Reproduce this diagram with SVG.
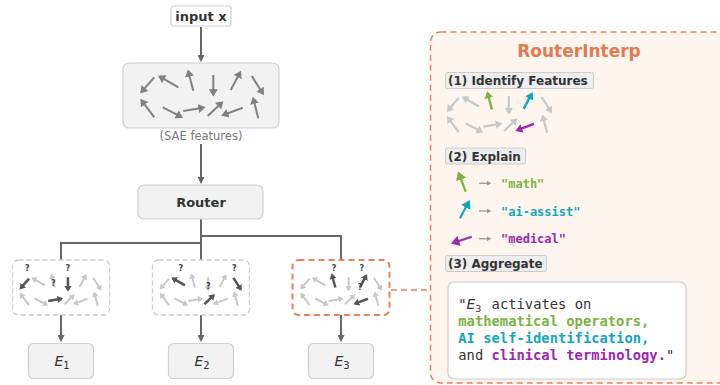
<svg xmlns="http://www.w3.org/2000/svg" width="720" height="385" viewBox="0 0 720 385">
<defs>
<style>
.sans{font-family:"DejaVu Sans","Liberation Sans",sans-serif;}
.mono{font-family:"DejaVu Sans Mono","Liberation Mono",monospace;}
.box{fill:#f2f2f2;stroke:#d0d0d0;stroke-width:1.2;}
.conn{stroke:#666;stroke-width:2;fill:none;}
.fg line{stroke:#808080;marker-end:url(#mg);}
.fl line{stroke:#c8c8c8;marker-end:url(#ml);}
.fl line.d{stroke:#555;marker-end:url(#md);}
.fl line.g{stroke:#7cb342;marker-end:url(#mgr);}
.fl line.c{stroke:#13a6bf;marker-end:url(#mc);}
.fl line.p{stroke:#9c27b0;marker-end:url(#mp);}
.q{font-family:"DejaVu Sans","Liberation Sans",sans-serif;font-size:8px;font-weight:bold;fill:#444;text-anchor:middle;}
.lbl{fill:#eeeeee;stroke:#cccccc;stroke-width:1;}
.lblt{font-family:"DejaVu Sans","Liberation Sans",sans-serif;font-size:12px;font-weight:bold;fill:#333;}
</style>
<marker id="mg" viewBox="0 0 8 10" refX="5.5" refY="5" markerWidth="7.5" markerHeight="9" markerUnits="userSpaceOnUse" orient="auto"><path d="M0,0L8,5L0,10z" fill="#808080"/></marker>
<marker id="ml" viewBox="0 0 8 10" refX="5.5" refY="5" markerWidth="8" markerHeight="10" markerUnits="userSpaceOnUse" orient="auto"><path d="M0,0L8,5L0,10z" fill="#c8c8c8"/></marker>
<marker id="md" viewBox="0 0 8 10" refX="5.5" refY="5" markerWidth="9" markerHeight="11" markerUnits="userSpaceOnUse" orient="auto"><path d="M0,0L8,5L0,10z" fill="#555"/></marker>
<marker id="mgr" viewBox="0 0 8 10" refX="5.5" refY="5" markerWidth="8.5" markerHeight="10.5" markerUnits="userSpaceOnUse" orient="auto"><path d="M0,0L8,5L0,10z" fill="#7cb342"/></marker>
<marker id="mc" viewBox="0 0 8 10" refX="5.5" refY="5" markerWidth="8.5" markerHeight="10.5" markerUnits="userSpaceOnUse" orient="auto"><path d="M0,0L8,5L0,10z" fill="#13a6bf"/></marker>
<marker id="mp" viewBox="0 0 8 10" refX="5.5" refY="5" markerWidth="8.5" markerHeight="10.5" markerUnits="userSpaceOnUse" orient="auto"><path d="M0,0L8,5L0,10z" fill="#9c27b0"/></marker>
<marker id="mk" viewBox="0 0 10 10" refX="7" refY="5" markerWidth="7" markerHeight="7" markerUnits="userSpaceOnUse" orient="auto"><path d="M0,0L10,5L0,10z" fill="#666"/></marker>
<marker id="ms" viewBox="0 0 10 10" refX="7" refY="5" markerWidth="5" markerHeight="5" markerUnits="userSpaceOnUse" orient="auto"><path d="M0,0L10,5L0,10z" fill="#999"/></marker>
</defs>
<rect width="720" height="385" fill="#ffffff"/>

<!-- RouterInterp panel -->
<g id="panel">
<rect x="430.5" y="32" width="330" height="351" rx="10" fill="#fdf5ee" stroke="#e8825a" stroke-width="1.5" stroke-dasharray="6 4"/>
<text x="579" y="57" class="sans" font-size="17" font-weight="bold" fill="#e07b53" text-anchor="middle">RouterInterp</text>
</g>

<g id="connectors">
<line class="conn" x1="201" y1="27" x2="201" y2="60" marker-end="url(#mk)"/>
<line class="conn" x1="201" y1="144" x2="201" y2="182" marker-end="url(#mk)"/>
<polyline class="conn" points="201,219 201,260"/>
<polyline class="conn" points="201,243 61,243 61,260"/>
<polyline class="conn" points="201,236 341,236 341,260"/>
<line class="conn" x1="61" y1="315" x2="61" y2="340" marker-end="url(#mk)"/>
<line class="conn" x1="201" y1="315" x2="201" y2="340" marker-end="url(#mk)"/>
<line class="conn" x1="341" y1="315" x2="341" y2="340" marker-end="url(#mk)"/>
<line x1="391" y1="290" x2="430" y2="290" stroke="#e8825a" stroke-width="1.5" stroke-dasharray="6 4"/>
</g>

<g id="input">
<rect x="171" y="6" width="60" height="20" rx="3" fill="#ffffff" stroke="#cfcfcf" stroke-width="1.2"/>
<text x="201" y="21" class="sans" font-size="13" font-weight="bold" fill="#333" text-anchor="middle">input x</text>
</g>

<g id="sae">
<rect x="123" y="63" width="156" height="65" rx="6" class="box"/>
<g class="fg" transform="translate(141.7,71.7)" stroke-width="2">
<line x1="12.6" y1="5.6" x2="0" y2="20"/>
<line x1="36.6" y1="15.6" x2="18.3" y2="5"/>
<line x1="51.6" y1="19" x2="46.6" y2="0"/>
<line x1="71.6" y1="3.3" x2="71.6" y2="22.6"/>
<line x1="89" y1="18.3" x2="98.3" y2="1"/>
<line x1="110" y1="4.3" x2="121" y2="21.6"/>
<line x1="12.6" y1="45.6" x2="0" y2="29"/>
<line x1="21" y1="35.6" x2="39.3" y2="45"/>
<line x1="41.6" y1="39.3" x2="61.6" y2="36"/>
<line x1="66" y1="44.3" x2="80" y2="31"/>
<line x1="101" y1="36" x2="81.6" y2="43.3"/>
<line x1="116.6" y1="46.6" x2="111.6" y2="27.3"/>
</g>
<text x="201" y="140" class="sans" font-size="11.5" fill="#777" text-anchor="middle">(SAE features)</text>
</g>

<g id="router">
<rect x="138" y="185" width="125" height="34" rx="6" class="box"/>
<text x="201" y="207" class="sans" font-size="13" font-weight="bold" fill="#333" text-anchor="middle">Router</text>
</g>

<g id="expert1feat">
<rect x="12.5" y="260" width="97" height="55" rx="6" fill="#ffffff" stroke="#cccccc" stroke-width="1.3" stroke-dasharray="5 3"/>
<g class="fl" transform="translate(20.7,275) scale(0.66)" stroke-width="3">
<line x1="36.6" y1="15.6" x2="18.3" y2="5"/>
<line x1="51.6" y1="19" x2="46.6" y2="0"/>
<line x1="89" y1="18.3" x2="98.3" y2="1"/>
<line x1="110" y1="4.3" x2="121" y2="21.6"/>
<line x1="12.6" y1="45.6" x2="0" y2="29"/>
<line x1="21" y1="35.6" x2="39.3" y2="45"/>
<line x1="66" y1="44.3" x2="80" y2="31"/>
<line x1="101" y1="36" x2="81.6" y2="43.3"/>
<line x1="116.6" y1="46.6" x2="111.6" y2="27.3"/>
<line class="d" x1="12.6" y1="5.6" x2="0" y2="20" stroke-width="3.8"/>
<line class="d" x1="71.6" y1="3.3" x2="71.6" y2="22.6" stroke-width="3.8"/>
<line class="d" x1="41.6" y1="39.3" x2="61.6" y2="36" stroke-width="3.8"/>
</g>
<text class="q" x="27.3" y="271">?</text>
<text class="q" x="67.7" y="271">?</text>
<text class="q" x="53.3" y="286">?</text>
</g>

<g id="expert2feat">
<rect x="152.5" y="260" width="97" height="55" rx="6" fill="#ffffff" stroke="#cccccc" stroke-width="1.3" stroke-dasharray="5 3"/>
<g class="fl" transform="translate(160.8,275) scale(0.66)" stroke-width="3">
<line x1="12.6" y1="5.6" x2="0" y2="20"/>
<line x1="51.6" y1="19" x2="46.6" y2="0"/>
<line x1="71.6" y1="3.3" x2="71.6" y2="22.6"/>
<line x1="89" y1="18.3" x2="98.3" y2="1"/>
<line x1="12.6" y1="45.6" x2="0" y2="29"/>
<line x1="21" y1="35.6" x2="39.3" y2="45"/>
<line x1="41.6" y1="39.3" x2="61.6" y2="36"/>
<line x1="101" y1="36" x2="81.6" y2="43.3"/>
<line x1="116.6" y1="46.6" x2="111.6" y2="27.3"/>
<line class="d" x1="36.6" y1="15.6" x2="18.3" y2="5" stroke-width="3.8"/>
<line class="d" x1="110" y1="4.3" x2="121" y2="21.6" stroke-width="3.8"/>
<line class="d" x1="66" y1="44.3" x2="80" y2="31" stroke-width="3.8"/>
</g>
<text class="q" x="180.7" y="271">?</text>
<text class="q" x="234.3" y="271">?</text>
<text class="q" x="208.3" y="289">?</text>
</g>

<g id="expert3feat">
<rect x="292.5" y="260" width="97" height="55" rx="6" fill="#ffffff" stroke="#e8825a" stroke-width="2" stroke-dasharray="6 4"/>
<g class="fl" transform="translate(301.3,275) scale(0.66)" stroke-width="3">
<line x1="12.6" y1="5.6" x2="0" y2="20"/>
<line x1="36.6" y1="15.6" x2="18.3" y2="5"/>
<line x1="71.6" y1="3.3" x2="71.6" y2="22.6"/>
<line x1="110" y1="4.3" x2="121" y2="21.6"/>
<line x1="12.6" y1="45.6" x2="0" y2="29"/>
<line x1="21" y1="35.6" x2="39.3" y2="45"/>
<line x1="41.6" y1="39.3" x2="61.6" y2="36"/>
<line x1="66" y1="44.3" x2="80" y2="31"/>
<line x1="116.6" y1="46.6" x2="111.6" y2="27.3"/>
<line class="d" x1="51.6" y1="19" x2="46.6" y2="0" stroke-width="3.8"/>
<line class="d" x1="89" y1="18.3" x2="98.3" y2="1" stroke-width="3.8"/>
<line class="d" x1="101" y1="36" x2="81.6" y2="43.3" stroke-width="3.8"/>
</g>
<text class="q" x="334" y="271">?</text>
<text class="q" x="361.7" y="271">?</text>
<text class="q" x="360" y="290">?</text>
</g>

<g id="E1">
<rect x="28.5" y="343.5" width="65" height="35" rx="5" class="box"/>
<text x="54.5" y="366" class="sans" font-size="14" font-style="italic" fill="#333">E<tspan font-size="10" font-style="normal" dy="3">1</tspan></text>
</g>
<g id="E2">
<rect x="168.5" y="343.5" width="65" height="35" rx="5" class="box"/>
<text x="194.5" y="366" class="sans" font-size="14" font-style="italic" fill="#333">E<tspan font-size="10" font-style="normal" dy="3">2</tspan></text>
</g>
<g id="E3">
<rect x="308.5" y="343.5" width="65" height="35" rx="5" class="box"/>
<text x="334.5" y="366" class="sans" font-size="14" font-style="italic" fill="#333">E<tspan font-size="10" font-style="normal" dy="3">3</tspan></text>
</g>

<g id="identify">
<rect x="445.5" y="72.5" width="148" height="16" rx="2" class="lbl"/>
<text x="448" y="85" class="lblt">(1) Identify Features</text>
<g class="fl" transform="translate(448,93.3) scale(0.85)" stroke-width="2.6">
<line x1="12.6" y1="5.6" x2="0" y2="20"/>
<line x1="36.6" y1="15.6" x2="18.3" y2="5"/>
<line x1="71.6" y1="3.3" x2="71.6" y2="22.6"/>
<line x1="110" y1="4.3" x2="121" y2="21.6"/>
<line x1="12.6" y1="45.6" x2="0" y2="29"/>
<line x1="21" y1="35.6" x2="39.3" y2="45"/>
<line x1="41.6" y1="39.3" x2="61.6" y2="36"/>
<line x1="66" y1="44.3" x2="80" y2="31"/>
<line x1="116.6" y1="46.6" x2="111.6" y2="27.3"/>
<line class="g" x1="51.6" y1="19" x2="46.6" y2="0" stroke-width="2.8"/>
<line class="c" x1="89" y1="18.3" x2="98.3" y2="1" stroke-width="2.8"/>
<line class="p" x1="101" y1="36" x2="81.6" y2="43.3" stroke-width="2.8"/>
</g>
</g>

<g id="explain">
<rect x="445.5" y="148" width="80" height="16" rx="2" class="lbl"/>
<text x="448" y="160.5" class="lblt">(2) Explain</text>
<line x1="465.7" y1="191.7" x2="459" y2="174" stroke="#7cb342" stroke-width="2.2" marker-end="url(#mgr)"/>
<line x1="479" y1="183.3" x2="490" y2="183.3" stroke="#999" stroke-width="1.3" marker-end="url(#ms)"/>
<text x="501" y="188" class="mono" font-size="12" font-weight="bold" fill="#7cb342">"math"</text>
<line x1="460" y1="218.3" x2="468.5" y2="202.3" stroke="#13a6bf" stroke-width="2.2" marker-end="url(#mc)"/>
<line x1="479" y1="211" x2="490" y2="211" stroke="#999" stroke-width="1.3" marker-end="url(#ms)"/>
<text x="501" y="215.5" class="mono" font-size="12" font-weight="bold" fill="#13a6bf">"ai-assist"</text>
<line x1="471.7" y1="236.7" x2="453.5" y2="242.7" stroke="#9c27b0" stroke-width="2.2" marker-end="url(#mp)"/>
<line x1="479" y1="238.7" x2="490" y2="238.7" stroke="#999" stroke-width="1.3" marker-end="url(#ms)"/>
<text x="501" y="242.7" class="mono" font-size="12" font-weight="bold" fill="#9c27b0">"medical"</text>
</g>

<g id="aggregate">
<rect x="445.5" y="255.5" width="101" height="16" rx="2" class="lbl"/>
<text x="448" y="268" class="lblt">(3) Aggregate</text>
<rect x="448" y="282" width="238" height="97" rx="6" fill="#ffffff" stroke="#cccccc" stroke-width="1.2"/>
<text x="458.3" y="309.3" class="mono" font-size="13.8" fill="#333">"<tspan class="sans" font-style="italic">E</tspan><tspan class="sans" font-size="9.5" dy="3">3</tspan><tspan x="491.6" dy="-3">activates on</tspan></text>
<text x="458.3" y="326" class="mono" font-size="13.8" font-weight="bold" fill="#7cb342">mathematical operators,</text>
<text x="458.3" y="343" class="mono" font-size="13.8" font-weight="bold" fill="#13a6bf">AI self-identification,</text>
<text x="458.3" y="360" class="mono" font-size="13.8" fill="#333">and <tspan font-weight="bold" fill="#9c27b0">clinical terminology.</tspan>"</text>
</g>
</svg>
